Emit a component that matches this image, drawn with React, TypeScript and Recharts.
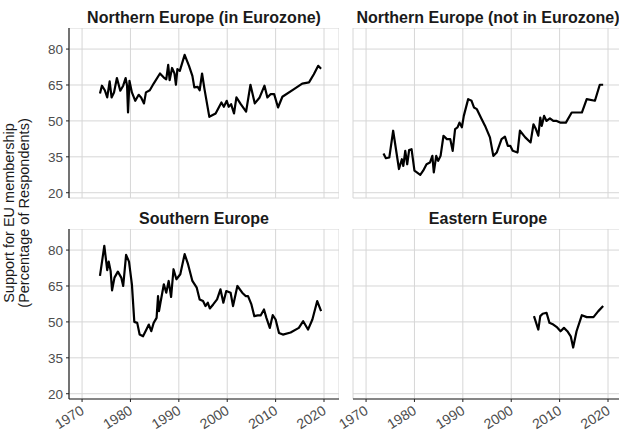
import React from 'react';
import { LineChart, Line, XAxis, YAxis, CartesianGrid } from 'recharts';

const yearTicks = [1970, 1980, 1990, 2000, 2010, 2020];
const valueTicks = [20, 35, 50, 65, 80];
const panelTitles = [
  'Northern Europe (in Eurozone)',
  'Northern Europe (not in Eurozone)',
  'Southern Europe',
  'Eastern Europe',
];
const yLabelLines = ['Support for EU membership', '(Percentage of Respondents)'];

const northInYears = [1973.7, 1974.1, 1974.7, 1975.2, 1975.7, 1976.1, 1976.6, 1977.2, 1977.9, 1978.5, 1979.0, 1979.3, 1979.5, 1979.8, 1980.3, 1981.0, 1981.7, 1982.2, 1982.8, 1983.2, 1984.0, 1984.8, 1986.1, 1986.9, 1987.4, 1987.8, 1988.1, 1988.6, 1989.1, 1989.4, 1989.7, 1990.2, 1991.2, 1992.1, 1992.8, 1993.2, 1993.9, 1994.3, 1994.8, 1995.3, 1996.3, 1997.6, 1998.8, 1999.3, 1999.9, 2000.3, 2000.8, 2001.4, 2001.9, 2002.8, 2003.9, 2004.8, 2005.7, 2006.7, 2007.7, 2008.3, 2009.0, 2009.7, 2010.5, 2011.4, 2013.8, 2015.5, 2016.9, 2017.9, 2018.8, 2019.4];
const northInValues = [61.4, 64.7, 62.8, 59.8, 66.5, 59.8, 61.9, 67.9, 62.6, 64.7, 67.9, 64.7, 53.5, 66.7, 61.9, 58.4, 60.9, 59.8, 57.3, 61.9, 62.8, 65.6, 69.8, 68.1, 67.4, 73.4, 67.0, 72.1, 69.8, 65.1, 71.6, 70.9, 77.6, 73.0, 68.8, 64.0, 64.2, 62.8, 69.8, 63.3, 51.7, 53.1, 57.7, 55.9, 58.4, 55.9, 57.0, 53.1, 59.8, 57.0, 53.9, 65.1, 57.3, 59.8, 64.7, 59.8, 61.2, 61.2, 55.6, 60.1, 63.3, 65.6, 66.1, 69.5, 73.0, 71.8];

const northOutYears = [1973.6, 1974.1, 1974.8, 1975.6, 1976.8, 1977.4, 1977.7, 1978.1, 1978.5, 1978.9, 1979.4, 1980.0, 1980.5, 1981.2, 1981.8, 1982.5, 1983.2, 1983.7, 1984.0, 1984.5, 1984.9, 1985.4, 1986.0, 1986.7, 1987.4, 1987.9, 1988.4, 1988.9, 1989.3, 1989.8, 1990.2, 1991.1, 1991.8, 1992.3, 1992.9, 1993.9, 1994.6, 1995.6, 1996.3, 1997.0, 1998.0, 1998.7, 1999.3, 1999.8, 2000.3, 2001.3, 2001.8, 2002.9, 2004.0, 2004.6, 2005.1, 2005.6, 2006.0, 2006.3, 2006.8, 2007.3, 2008.0, 2008.7, 2009.4, 2010.1, 2011.3, 2012.5, 2014.6, 2015.6, 2017.3, 2018.3, 2019.0];
const northOutValues = [36.4, 34.4, 34.7, 45.9, 29.9, 34.0, 31.2, 37.5, 31.9, 37.8, 38.2, 29.2, 28.5, 27.5, 29.2, 31.9, 32.6, 35.4, 28.5, 35.4, 33.3, 35.4, 43.8, 42.4, 42.4, 37.5, 46.6, 47.3, 49.3, 47.3, 52.1, 59.1, 58.4, 55.6, 54.9, 50.7, 47.9, 43.1, 35.4, 36.8, 42.4, 43.4, 39.6, 39.6, 37.5, 36.8, 45.9, 43.1, 41.0, 48.6, 46.6, 43.8, 51.4, 47.9, 52.1, 50.0, 51.1, 50.0, 50.0, 49.3, 49.3, 53.5, 53.5, 59.1, 58.4, 65.1, 65.1];

const southYears = [1973.7, 1974.6, 1975.2, 1975.5, 1975.9, 1976.2, 1976.7, 1977.4, 1978.1, 1978.5, 1979.1, 1979.7, 1980.3, 1980.8, 1981.4, 1981.9, 1982.6, 1983.3, 1983.8, 1984.3, 1984.8, 1985.4, 1985.7, 1985.9, 1986.2, 1986.9, 1987.4, 1987.9, 1988.4, 1988.9, 1989.5, 1990.3, 1991.2, 1991.9, 1992.8, 1993.7, 1994.3, 1995.0, 1995.5, 1996.0, 1996.4, 1997.1, 1997.9, 1998.6, 1999.2, 1999.8, 2000.7, 2001.2, 2002.1, 2003.1, 2003.8, 2004.3, 2005.0, 2005.6, 2006.3, 2006.9, 2007.6, 2008.1, 2008.8, 2009.4, 2010.0, 2010.7, 2011.5, 2013.1, 2014.8, 2015.7, 2016.7, 2017.6, 2018.6, 2019.4];
const southValues = [69.2, 81.8, 71.6, 75.2, 71.3, 63.2, 68.5, 71.0, 68.5, 65.0, 78.0, 75.2, 65.7, 50.0, 49.6, 44.7, 44.0, 46.8, 48.9, 46.1, 49.6, 51.7, 60.8, 54.5, 58.0, 65.7, 62.2, 67.1, 60.4, 72.0, 67.8, 69.9, 78.3, 74.1, 67.1, 64.3, 59.4, 58.7, 56.6, 58.0, 55.6, 57.3, 59.4, 63.6, 58.0, 62.9, 62.2, 56.6, 65.0, 62.2, 60.8, 60.8, 57.3, 52.4, 52.7, 52.7, 55.2, 51.7, 47.5, 52.8, 51.0, 45.4, 44.7, 45.6, 47.5, 50.3, 46.8, 51.0, 58.7, 54.5];

const eastYears = [2004.7, 2005.6, 2006.0, 2006.5, 2007.3, 2007.9, 2008.7, 2009.5, 2010.2, 2010.9, 2011.6, 2012.3, 2012.8, 2013.5, 2014.6, 2015.6, 2017.0, 2018.0, 2019.0];
const eastValues = [52.4, 46.8, 52.4, 53.4, 53.8, 49.6, 48.9, 47.7, 46.1, 47.5, 46.1, 44.0, 39.3, 46.1, 52.8, 52.0, 52.0, 54.5, 56.6];

const toRows = (years: number[], values: number[]) =>
  years.map((year, i) => ({ year, value: values[i] }));

const seriesData = [
  toRows(northInYears, northInValues),
  toRows(northOutYears, northOutValues),
  toRows(southYears, southValues),
  toRows(eastYears, eastValues),
];

const FONT = '"Liberation Sans", Arial, Helvetica, sans-serif';
const GRID = '#d6d6d6';
const TICK_TEXT = '#4d4d4d';

const PLOT_W = 270;
const PLOT_H = 170;
const LEFT_ROOM = 60;
const BOTTOM_ROOM = 40;

const XTick = (props: any) => {
  const { x, y, payload } = props;
  const ax = x + 3;
  const ay = y + 11;
  return (
    <text
      x={ax}
      y={ay}
      transform={`rotate(-32, ${ax}, ${ay})`}
      textAnchor="end"
      fill={TICK_TEXT}
      fontSize={14}
      fontFamily={FONT}
    >
      {payload.value}
    </text>
  );
};

type PanelProps = {
  data: { year: number; value: number }[];
  plotLeft: number;
  plotTop: number;
  showY: boolean;
  showX: boolean;
};

const Panel = ({ data, plotLeft, plotTop, showY, showX }: PanelProps) => {
  const yW = 40;
  const xH = 30;
  return (
    <div style={{ position: 'absolute', left: plotLeft - LEFT_ROOM, top: plotTop }}>
      <LineChart
        width={LEFT_ROOM + PLOT_W}
        height={PLOT_H + BOTTOM_ROOM}
        data={data}
        margin={{
          top: 0,
          right: 0,
          left: showY ? LEFT_ROOM - yW : LEFT_ROOM,
          bottom: showX ? BOTTOM_ROOM - xH : BOTTOM_ROOM,
        }}
        style={{ overflow: 'visible' }}
      >
        <CartesianGrid stroke={GRID} strokeWidth={1} />
        <XAxis
          type="number"
          dataKey="year"
          domain={[1967.3, 2023.1]}
          ticks={yearTicks}
          allowDataOverflow
          hide={!showX}
          height={xH}
          axisLine={{ stroke: '#222', strokeWidth: 1.2 }}
          tickLine={{ stroke: '#222' }}
          tickSize={3}
          tickMargin={0}
          tick={<XTick />}
          interval={0}
        />
        <YAxis
          type="number"
          dataKey="value"
          domain={[17.8, 88.8]}
          ticks={valueTicks}
          allowDataOverflow
          hide={!showY}
          width={yW}
          axisLine={{ stroke: '#222', strokeWidth: 1.2 }}
          tickLine={{ stroke: '#222' }}
          tickSize={3}
          tickMargin={3}
          tick={{ fill: TICK_TEXT, fontSize: 13.5, fontFamily: FONT }}
          interval={0}
        />
        <Line
          type="linear"
          dataKey="value"
          stroke="#000"
          strokeWidth={2.2}
          dot={false}
          isAnimationActive={false}
          strokeLinejoin="round"
        />
      </LineChart>
    </div>
  );
};

export default function App() {
  const lefts = [69, 353];
  const tops = [28, 229];
  return (
    <div
      style={{
        position: 'absolute',
        left: 0,
        top: 0,
        width: 619,
        height: 432,
        overflow: 'hidden',
        background: '#fff',
        fontFamily: FONT,
      }}
    >
      {seriesData.map((d, i) => (
        <Panel
          key={i}
          data={d}
          plotLeft={lefts[i % 2]}
          plotTop={tops[Math.floor(i / 2)]}
          showY={i % 2 === 0}
          showX={i >= 2}
        />
      ))}
      <svg
        width={619}
        height={432}
        style={{ position: 'absolute', left: 0, top: 0, pointerEvents: 'none' }}
      >
        {panelTitles.map((t, i) => (
          <text
            key={t}
            x={lefts[i % 2] + PLOT_W / 2}
            y={tops[Math.floor(i / 2)] - 5}
            textAnchor="middle"
            fontFamily={FONT}
            fontWeight="bold"
            fontSize={16}
            fill="#1a1a1a"
          >
            {t}
          </text>
        ))}
        {yLabelLines.map((t, i) => (
          <text
            key={t}
            x={0}
            y={0}
            transform={`translate(${14 + i * 15}, 213) rotate(-90)`}
            textAnchor="middle"
            fontFamily={FONT}
            fontSize={14.5}
            fill="#1a1a1a"
          >
            {t}
          </text>
        ))}
      </svg>
    </div>
  );
}
